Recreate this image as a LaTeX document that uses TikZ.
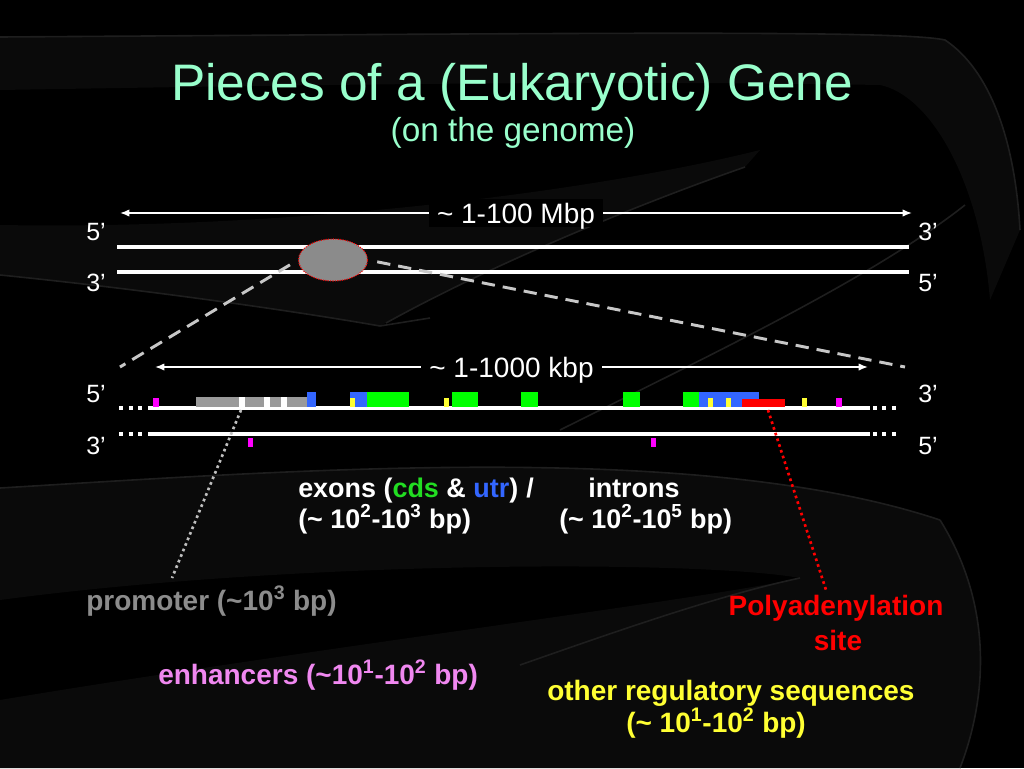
\documentclass[tikz,border=0pt]{standalone}
\usepackage{fontspec}
\setmainfont{Liberation Sans}
\usetikzlibrary{arrows.meta,shapes.geometric}
\definecolor{titlegreen}{HTML}{99FFCC}
\definecolor{cdsgreen}{HTML}{00FF00}
\definecolor{cdstext}{HTML}{22DD22}
\definecolor{utrblue}{HTML}{3366FF}
\definecolor{regyellow}{HTML}{FFFF33}
\definecolor{enhmagenta}{HTML}{FF00FF}
\definecolor{enhtext}{HTML}{F088F0}
\definecolor{promgray}{HTML}{9A9A9A}
\definecolor{promtext}{HTML}{8C8C8C}
\definecolor{polyred}{HTML}{FF0000}
\definecolor{bgband}{HTML}{0A0A0A}
\definecolor{bgedge}{HTML}{1E1E1E}
\begin{document}
\begin{tikzpicture}[x=0.75pt,y=-0.75pt]
  \tikzstyle{strand}=[white,line width=2.5pt]
  \tikzstyle{ellip}=[white,line width=3pt,dash pattern=on 3pt off 4.1pt]
  \tikzstyle{prime}=[anchor=base west,inner sep=0pt,white,font=\fontsize{18.75}{20}\selectfont]
  \tikzstyle{span}=[white,line width=1.1pt,{Latex[length=7pt,width=5.5pt]}-{Latex[length=7pt,width=5.5pt]}]
  \tikzstyle{spanlabel}=[midway,fill=black,inner xsep=6pt,inner ysep=3pt,text depth=0pt,text=white,font=\fontsize{21}{24}\selectfont]
  \tikzstyle{zoomline}=[draw=black!22,line width=2.2pt,dash pattern=on 10pt off 6pt,shorten <=7pt]
  \tikzstyle{label}=[anchor=base west,inner sep=0pt,font=\bfseries\fontsize{21}{24}\selectfont]
  \tikzstyle{exlabel}=[label,white,font=\bfseries\fontsize{20.2}{24}\selectfont]
  \tikzstyle{bgline}=[bgedge,line width=1.2pt]
  % background
  \fill[black] (0,0) rectangle (1024,768);
  \useasboundingbox (0,0) rectangle (1024,768);
  \fill[bgband] (0,37) .. controls (600,33) and (900,30) .. (945,40) .. controls (990,70) and (1015,140) .. (1020,230)
    -- (990,300) .. controls (980,180) and (930,95) .. (880,85) .. controls (600,80) and (300,85) .. (0,90) -- cycle;
  \fill[bgband] (0,275) .. controls (150,290) and (300,312) .. (380,326) .. controls (500,260) and (650,200) .. (745,167)
    -- (760,150) .. controls (600,190) and (300,230) .. (0,225) -- cycle;
  \fill[bgband] (0,488) .. controls (300,470) and (700,440) .. (940,520) .. controls (990,600) and (990,690) .. (960,768)
    -- (0,768) -- (0,700) .. controls (300,650) and (700,600) .. (800,578) .. controls (700,560) and (300,560) .. (0,600) -- cycle;
  \draw[bgline] (0,37) .. controls (600,33) and (900,30) .. (945,40) .. controls (990,70) and (1015,140) .. (1020,230);
  \draw[bgline] (0,275) .. controls (150,290) and (300,312) .. (380,326) -- (430,318);
  \draw[bgline] (386,323) .. controls (500,260) and (650,200) .. (745,167);
  \draw[bgline] (560,430) .. controls (700,360) and (870,280) .. (965,205);
  \draw[bgline] (0,488) .. controls (300,470) and (700,440) .. (940,520);
  \draw[bgline] (520,665) .. controls (620,630) and (720,595) .. (800,578);
  \draw[bgline] (940,520) .. controls (990,600) and (990,690) .. (960,768);

  % title
  \node[anchor=base,titlegreen,font=\fontsize{38.5}{40}\selectfont] (title) at (512,100) {Pieces of a (Eukaryotic) Gene};
  \node[anchor=base,titlegreen,font=\fontsize{25}{28}\selectfont] (subtitle) at (513,141) {(on the genome)};

  % genome
  \coordinate (t1w) at (117,247); \coordinate (t1e) at (909,247);
  \coordinate (t2w) at (117,272); \coordinate (t2e) at (909,272);
  \coordinate (mbl) at (120,213); \coordinate (mbr) at (912,213);
  \draw[span] (mbl) -- (mbr) node[spanlabel] (mbp) {\textasciitilde{} 1-100 Mbp};
  \draw[strand] (t1w) -- (t1e);
  \draw[strand] (t2w) -- (t2e);
  \node[prime] (t5l) at (86,240) {5’};
  \node[prime] (t3l) at (86,291) {3’};
  \node[prime] (t3r) at (918,240) {3’};
  \node[prime] (t5r) at (918,291) {5’};
  \node[ellipse,fill=promgray!90!black,draw=polyred,densely dotted,line width=0.8pt,
    minimum width=51.75pt,minimum height=31.5pt,inner sep=0pt] (zoom) at (333,260) {};

  % gene
  \coordinate (lowl) at (120,367); \coordinate (lowr) at (905,367);
  \draw[zoomline] (zoom.west) -- (lowl);
  \draw[zoomline] (zoom.east) -- (lowr);
  \coordinate (kbl) at (155,367); \coordinate (kbr) at (868,367);
  \draw[span] (kbl) -- (kbr) node[spanlabel] (kbp) {\textasciitilde{} 1-1000 kbp};
  \coordinate (s1w) at (148,408); \coordinate (s1e) at (870,408);
  \coordinate (s2w) at (148,434); \coordinate (s2e) at (870,434);
  \draw[strand] (s1w) -- (s1e);
  \draw[strand] (s2w) -- (s2e);
  \draw[ellip] ([xshift=-21.5pt]s1w) -- ([xshift=-4.3pt]s1w);
  \draw[ellip] ([xshift=-21.5pt]s2w) -- ([xshift=-4.3pt]s2w);
  \draw[ellip] ([xshift=2.25pt]s1e) -- ([xshift=20.25pt]s1e);
  \draw[ellip] ([xshift=2.25pt]s2e) -- ([xshift=20.25pt]s2e);
  \node[prime] (g5l) at (86,402) {5’};
  \node[prime] (g3l) at (86,454) {3’};
  \node[prime] (g3r) at (918,402) {3’};
  \node[prime] (g5r) at (918,454) {5’};

  % promoter
  \fill[promgray] (196,397) rectangle (306.7,407);
  \foreach \a in {239,264.3,281}
    \fill[white] (\a,397) rectangle ++(5.5,10);
  % utr
  \foreach \a/\b in {306.7/316,350/366.7,699.3/759.3}
    \fill[utrblue] (\a,392) rectangle (\b,407);
  % cds
  \foreach \a/\b in {366.7/409.3,452.3/477.7,520.7/537.7,623.3/640,682.7/699.3}
    \fill[cdsgreen] (\a,392) rectangle (\b,407);
  % other regulatory sequences
  \foreach \a in {350,444,708.3,725.7,802.3}
    \fill[regyellow] (\a,397.7) rectangle ++(5,9.3);
  % enhancers
  \foreach \a in {153.3,836}
    \fill[enhmagenta] (\a,397.7) rectangle ++(5.7,9.3);
  \foreach \a in {247.7,650.7}
    \fill[enhmagenta] (\a,437.7) rectangle ++(5,9.6);
  % polyadenylation site
  \fill[polyred] (742.3,399) rectangle (785,407);

  % labels
  \node[exlabel] (exons) at (298,497) {exons (\textcolor{cdstext}{cds} \& \textcolor{utrblue}{utr})};
  \node[exlabel] (slash) at (526,497) {/};
  \node[exlabel] (introns) at (588,497) {introns};
  \node[exlabel] (exsize) at (298,528) {(\textasciitilde{} 10\textsuperscript{2}-10\textsuperscript{3} bp)};
  \node[exlabel] (insize) at (559,528) {(\textasciitilde{} 10\textsuperscript{2}-10\textsuperscript{5} bp)};
  \node[label,promtext] (promoter) at (86,610) {promoter (\textasciitilde10\textsuperscript{3} bp)};
  \node[label,enhtext] (enhancers) at (158,684) {enhancers (\textasciitilde10\textsuperscript{1}-10\textsuperscript{2} bp)};
  \node[label,anchor=base,polyred] (poly) at (836,615) {Polyadenylation};
  \node[label,anchor=base,polyred] (polysite) at (838,650) {site};
  \node[label,regyellow] (other) at (547,700) {other regulatory sequences};
  \node[label,regyellow] (othersize) at (626,732) {(\textasciitilde{} 10\textsuperscript{1}-10\textsuperscript{2} bp)};

  % pointers
  \coordinate (prom) at (241,410); \coordinate (promend) at (172,578);
  \coordinate (polya) at (768,410); \coordinate (polyend) at (826,590);
  \draw[black!25,line width=2pt,dash pattern=on 2pt off 2.5pt] (prom) -- (promend);
  \draw[polyred,line width=2pt,dash pattern=on 2pt off 2.5pt] (polya) -- (polyend);
\end{tikzpicture}
\end{document}
